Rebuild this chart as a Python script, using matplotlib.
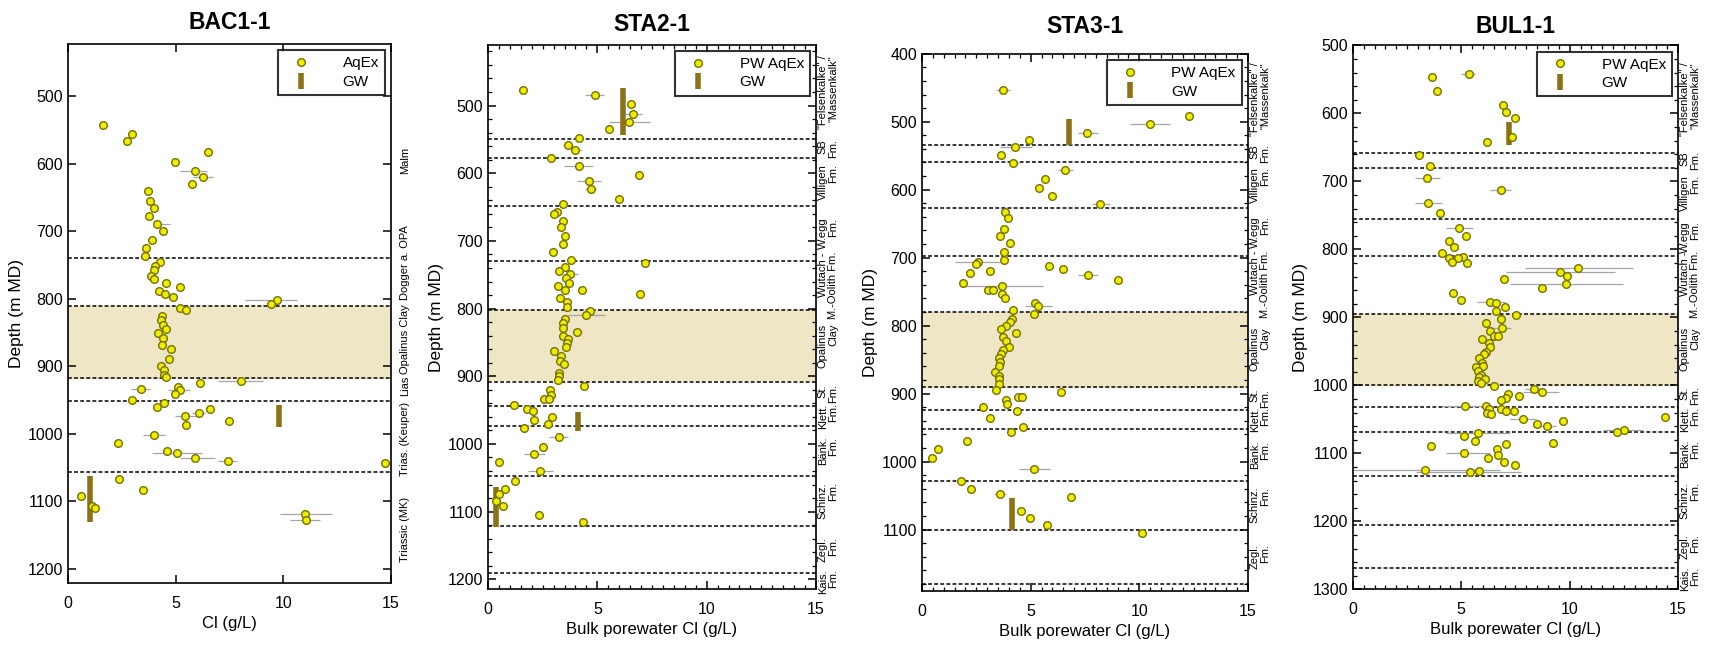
import matplotlib.pyplot as plt
from matplotlib.lines import Line2D
from matplotlib.ticker import MultipleLocator
import matplotlib.transforms as mtransforms

plt.rcParams['font.family'] = ['Liberation Sans', 'DejaVu Sans']

# ---------------- BAC1-1 ----------------
bac_cl = [1.63, 2.98, 2.73, 6.51, 4.96, 5.88, 6.26, 5.74, 3.72, 3.80, 4.00, 3.74, 4.12, 4.40, 3.92,
          3.61, 3.58, 4.29, 4.06, 3.98, 3.83, 3.98, 4.56, 5.21, 4.23, 4.48, 4.87, 9.72, 9.41, 5.22,
          5.47, 4.37, 4.33, 4.39, 4.53, 4.17, 4.42, 4.37, 4.76, 4.70, 4.33, 4.45, 4.47, 4.53, 8.02,
          6.14, 5.12, 3.38, 5.19, 4.96, 2.96, 4.45, 4.14, 6.59, 6.09, 5.41, 7.49, 5.50, 3.97, 2.31,
          4.60, 5.04, 5.89, 7.41, 14.71, 2.36, 3.49, 0.60, 1.09, 1.27, 11.00, 11.07]
bac_depth = [542, 556, 567, 583, 598, 611, 620, 630, 640, 655, 666, 678, 689, 700, 713,
             725, 737, 746, 751, 758, 766, 771, 777, 783, 789, 793, 798, 801, 807, 813,
             816, 825, 832, 839, 845, 850, 858, 869, 875, 889, 899, 906, 913, 916, 921,
             924, 930, 934, 935, 941, 950, 954, 960, 963, 969, 974, 981, 987, 1001, 1013,
             1025, 1028, 1036, 1040, 1043, 1067, 1083, 1092, 1106, 1110, 1119, 1128]
bac_err_depth = [611, 620, 689, 801, 921, 934, 935, 969, 974, 1001, 1028, 1036, 1040, 1119, 1128]
bac_err_lo = [5.22, 5.81, 3.95, 8.22, 6.98, 2.94, 4.65, 5.74, 4.96, 3.49, 3.88, 5.19, 6.98, 9.84, 10.3]
bac_err_hi = [6.46, 6.74, 4.73, 10.62, 9.07, 3.80, 5.66, 6.36, 5.97, 4.50, 6.20, 6.82, 7.83, 12.25, 11.7]
bac_gw_cl = [9.8, 1.0]
bac_gw_top = [957, 1062]
bac_gw_bot = [990, 1131]
bac_bounds = [740, 810, 917, 951, 1056]
bac_shade = (810, 917)
bac_units = ['Malm', 'Dogger a. OPA', 'Opalinus Clay', 'Lias', 'Trias. (Keuper)', 'Triassic (MK)']
bac_unit_depth = [595, 746, 860, 929, 1007, 1141]

# ---------------- STA2-1 ----------------
sta2_cl = [1.62, 4.87, 6.55, 6.64, 6.46, 5.51, 4.17, 3.67, 3.97, 2.90, 4.14, 6.89, 4.60, 4.70, 5.97,
           3.41, 3.15, 3.02, 3.41, 3.33, 3.50, 3.41, 2.99, 3.79, 7.18, 3.51, 3.25, 3.74, 3.56, 3.71,
           4.28, 3.50, 3.21, 6.95, 3.30, 3.59, 3.62, 4.66, 4.49, 3.54, 3.44, 3.44, 4.06, 3.44, 3.67,
           3.59, 3.56, 3.02, 3.35, 3.31, 3.47, 3.24, 3.24, 3.22, 4.40, 2.84, 2.87, 2.55, 2.78, 1.21,
           1.76, 2.06, 2.93, 2.09, 2.72, 1.66, 3.24, 2.52, 2.09, 0.50, 2.38, 1.24, 0.76, 0.49, 0.38,
           0.67, 2.35, 4.34]
sta2_depth = [477, 485, 498, 512, 524, 535, 548, 559, 565, 577, 589, 602, 612, 624, 638,
              645, 657, 660, 670, 680, 693, 704, 716, 728, 732, 738, 744, 749, 755, 762,
              773, 773, 767, 779, 784, 791, 798, 804, 809, 816, 822, 828, 834, 840, 845,
              851, 857, 863, 870, 877, 882, 895, 900, 905, 915, 920, 927, 933, 933, 943,
              948, 952, 960, 965, 971, 976, 990, 1004, 1015, 1027, 1040, 1055, 1066, 1074, 1084,
              1091, 1105, 1115]
sta2_err_depth = [485, 512, 524, 559, 565, 589, 612, 624, 749, 809, 834, 990, 1015, 1040]
sta2_err_lo = [4.44, 6.26, 5.53, 3.41, 3.90, 3.47, 4.05, 4.43, 3.51, 3.67, 3.82, 2.80, 1.63, 1.82]
sta2_err_hi = [5.30, 7.06, 7.41, 3.90, 4.32, 4.81, 5.16, 4.93, 4.12, 5.35, 4.32, 3.67, 2.60, 2.98]
sta2_gw_cl = [6.15, 4.1, 0.35]
sta2_gw_top = [474, 953, 1063]
sta2_gw_bot = [544, 981, 1123]
sta2_bounds = [550, 577, 648, 730, 802, 908, 944, 974, 1047, 1121, 1191]
sta2_shade = (802, 906)

# ---------------- STA3-1 ----------------
sta3_cl = [3.72, 12.27, 10.50, 7.60, 4.90, 4.30, 3.64, 4.19, 6.59, 5.65, 5.40, 6.00, 8.18, 3.82, 3.96,
           3.78, 3.58, 4.07, 3.76, 3.76, 2.58, 2.47, 5.83, 6.48, 3.13, 2.21, 7.63, 9.01, 1.87, 3.70,
           3.02, 3.25, 3.70, 3.81, 5.19, 5.34, 4.19, 5.16, 4.16, 4.04, 3.88, 3.65, 4.31, 3.73, 3.88,
           3.99, 3.73, 3.64, 3.55, 3.61, 3.56, 3.35, 3.52, 3.56, 3.53, 3.41, 6.39, 4.41, 4.62, 3.87,
           3.90, 2.81, 4.35, 3.15, 4.64, 4.08, 2.06, 0.72, 0.45, 5.16, 1.80, 2.26, 3.61, 6.86, 4.54,
           4.97, 5.76, 10.13]
sta3_depth = [454, 492, 503, 516, 527, 537, 549, 561, 571, 584, 597, 609, 621, 633, 642,
              658, 668, 679, 691, 703, 707, 709, 713, 716, 719, 723, 725, 733, 737, 742,
              747, 747, 753, 760, 766, 771, 777, 783, 790, 794, 800, 805, 811, 817, 823,
              831, 836, 842, 848, 854, 860, 868, 874, 879, 886, 894, 898, 905, 905, 910,
              915, 919, 926, 936, 949, 957, 970, 981, 994, 1011, 1029, 1041, 1048, 1052, 1072,
              1083, 1093, 1105]
sta3_err_depth = [454, 503, 516, 537, 561, 571, 621, 707, 725, 742, 771, 1011, 1048]
sta3_err_lo = [3.41, 9.58, 7.20, 3.59, 3.98, 6.28, 7.82, 1.52, 7.20, 1.75, 4.74, 4.44, 3.33]
sta3_err_hi = [4.05, 11.42, 8.12, 5.05, 4.44, 6.97, 8.66, 3.59, 8.12, 5.59, 5.97, 5.90, 3.87]
sta3_gw_cl = [6.75, 4.15]
sta3_gw_top = [496, 1053]
sta3_gw_bot = [534, 1100]
sta3_bounds = [534, 560, 627, 698, 780, 890, 924, 952, 1028, 1100, 1180]
sta3_shade = (780, 890)

# ---------------- BUL1-1 ----------------
bul_cl = [5.34, 3.66, 3.86, 6.94, 7.05, 7.46, 7.35, 6.18, 3.05, 3.54, 3.43, 6.82, 3.46, 4.03, 4.89,
          5.22, 4.43, 4.66, 4.12, 5.06, 4.43, 4.86, 4.57, 5.25, 10.38, 9.57, 9.88, 6.98, 9.83, 8.72,
          4.62, 4.98, 6.32, 6.58, 7.00, 6.60, 7.51, 6.82, 6.14, 6.86, 6.31, 6.51, 6.71, 5.94, 6.26,
          6.32, 6.12, 6.05, 5.82, 5.95, 5.85, 5.69, 5.98, 5.77, 5.91, 5.80, 6.09, 5.77, 5.91, 6.52,
          8.35, 8.74, 7.15, 7.68, 7.08, 6.82, 5.17, 6.12, 6.28, 6.82, 7.06, 7.43, 6.20, 6.38, 14.42,
          7.85, 9.69, 8.51, 8.95, 12.52, 12.20, 5.77, 5.14, 5.63, 9.23, 7.05, 3.58, 6.66, 6.71, 5.14,
          6.23, 6.98, 7.49, 3.32, 5.38, 5.82]
bul_depth = [542, 547, 567, 587, 598, 606, 634, 642, 661, 677, 695, 713, 731, 747, 769,
             780, 787, 797, 805, 811, 813, 813, 819, 820, 827, 833, 839, 844, 851, 857,
             864, 874, 878, 879, 884, 890, 897, 903, 908, 915, 920, 927, 927, 932, 938,
             944, 951, 954, 959, 967, 973, 973, 972, 979, 984, 987, 990, 993, 997, 1001,
             1005, 1010, 1013, 1015, 1018, 1021, 1030, 1030, 1034, 1035, 1038, 1038, 1041, 1042, 1046,
             1049, 1052, 1057, 1060, 1065, 1068, 1070, 1074, 1081, 1084, 1086, 1089, 1093, 1102, 1100,
             1106, 1112, 1117, 1124, 1127, 1126]
bul_err_depth = [542, 695, 713, 731, 769, 827, 833, 851, 878, 915, 1005, 1010, 1030, 1049,
                 1060, 1065, 1070, 1100, 1124, 1127]
bul_err_lo = [5.00, 2.85, 6.31, 2.85, 4.31, 7.92, 7.08, 7.23, 5.72, 6.46, 7.92, 7.85, 4.12, 7.23,
              8.30, 11.54, 4.31, 4.31, 0.00, 2.92]
bul_err_hi = [5.62, 4.00, 7.31, 4.12, 5.54, 12.92, 12.08, 12.46, 7.00, 7.31, 8.77, 9.51, 6.31, 8.46,
              9.38, 13.38, 7.23, 6.31, 6.77, 7.77]
bul_gw_cl = [7.2]
bul_gw_top = [613]
bul_gw_bot = [647]
bul_bounds = [658, 680, 755, 809, 895, 999, 1032, 1069, 1133, 1205, 1269]
bul_shade = (895, 999)

# formation labels shared by the STA2-1 / STA3-1 / BUL1-1 columns
fm_labels = ['"Felsenkalke" /\n"Massenkalk"', 'SB\nFm.', 'Villigen\nFm.', 'W.egg\nFm.',
             'Wutach -\nM.-Oolith Fm.', 'Opalinus\nClay', 'St.\nFm.', 'Klett.\nFm.',
             'Bänk.\nFm.', 'Schinz.\nFm.', 'Zegl.\nFm.', 'Kais.\nFm.']

PT_FACE = '#EDED00'
PT_EDGE = '#767000'
GW_COL = '#8B7118'
SHADE = '#EEE6C5'

panels = [
    dict(title='BAC1-1', cl=bac_cl, d=bac_depth, ed=bac_err_depth, elo=bac_err_lo, ehi=bac_err_hi,
         gx=bac_gw_cl, gt=bac_gw_top, gb=bac_gw_bot, bounds=bac_bounds, shade=bac_shade,
         ylim=(1221, 423), yticks=range(500, 1201, 100), xlabel='Cl (g/L)', leg='AqEx',
         pos=[0.0398, 0.100, 0.1889, 0.8318], minor=False, pad=11),
    dict(title='STA2-1', cl=sta2_cl, d=sta2_depth, ed=sta2_err_depth, elo=sta2_err_lo, ehi=sta2_err_hi,
         gx=sta2_gw_cl, gt=sta2_gw_top, gb=sta2_gw_bot, bounds=sta2_bounds, shade=sta2_shade,
         ylim=(1215, 410), yticks=range(500, 1201, 100), xlabel='Bulk porewater Cl (g/L)', leg='PW AqEx',
         pos=[0.2854, 0.0904, 0.1918, 0.8407], minor=True, pad=10),
    dict(title='STA3-1', cl=sta3_cl, d=sta3_depth, ed=sta3_err_depth, elo=sta3_err_lo, ehi=sta3_err_hi,
         gx=sta3_gw_cl, gt=sta3_gw_top, gb=sta3_gw_bot, bounds=sta3_bounds, shade=sta3_shade,
         ylim=(1191, 400), yticks=range(400, 1101, 100), xlabel='Bulk porewater Cl (g/L)', leg='PW AqEx',
         pos=[0.5392, 0.0873, 0.1906, 0.8298], minor=True, pad=15),
    dict(title='BUL1-1', cl=bul_cl, d=bul_depth, ed=bul_err_depth, elo=bul_err_lo, ehi=bul_err_hi,
         gx=bul_gw_cl, gt=bul_gw_top, gb=bul_gw_bot, bounds=bul_bounds, shade=bul_shade,
         ylim=(1300, 500), yticks=range(500, 1301, 100), xlabel='Bulk porewater Cl (g/L)', leg='PW AqEx',
         pos=[0.7912, 0.0904, 0.1901, 0.8395], minor=True, pad=9),
]

fig = plt.figure(figsize=(17.1, 6.48), dpi=100)

for p in panels:
    ax = fig.add_axes(p['pos'])
    ax.set_xlim(0, 15)
    ax.set_ylim(*p['ylim'])
    ax.axhspan(p['shade'][0], p['shade'][1], color=SHADE, zorder=0)
    for b in p['bounds']:
        ax.axhline(b, color='black', lw=1.1, ls=(0, (2.5, 1.5)), zorder=1)
    ax.hlines(p['ed'], p['elo'], p['ehi'], color='#a5a5a5', lw=0.9, zorder=2)
    ax.vlines(p['gx'], p['gt'], p['gb'], color=GW_COL, lw=4, zorder=3)
    ax.plot(p['cl'], p['d'], 'o', ms=5.5, mfc=PT_FACE, mec=PT_EDGE, mew=1.0, zorder=4)

    ax.set_xticks([0, 5, 10, 15])
    ax.set_yticks(list(p['yticks']))
    if p['minor']:
        ax.xaxis.set_minor_locator(MultipleLocator(0.5))
        ax.yaxis.set_minor_locator(MultipleLocator(20))
    ax.tick_params(which='major', direction='in', top=True, right=True, length=6, width=1.1,
                   labelsize=11.5)
    ax.tick_params(which='minor', direction='in', top=True, right=True, length=3, width=0.9)
    ax.tick_params(axis='x', pad=9)
    for s in ax.spines.values():
        s.set_linewidth(1.2)

    ax.set_title(p['title'], fontsize=16.5, fontweight='bold', pad=p['pad'])
    ax.set_ylabel('Depth (m MD)', fontsize=12.5, labelpad=3)
    ax.set_xlabel(p['xlabel'], fontsize=12, labelpad=4)

    handles = [Line2D([], [], ls='none', marker='o', ms=5.5, mfc=PT_FACE, mec=PT_EDGE, mew=1.0),
               Line2D([], [], ls='none', marker='|', ms=11, mew=4, color=GW_COL)]
    leg = ax.legend(handles, [p['leg'], 'GW'], loc='upper right', fontsize=11, frameon=True,
                    fancybox=False, handlelength=2.2, handletextpad=1.6, borderpad=0.4,
                    labelspacing=0.3, borderaxespad=0.4)
    leg.get_frame().set_edgecolor('black')
    leg.get_frame().set_linewidth(1.5)

    trans = mtransforms.blended_transform_factory(ax.transAxes, ax.transData)
    if p['title'] == 'BAC1-1':
        for lab, dep in zip(bac_units, bac_unit_depth):
            ax.text(1.042, dep, lab, transform=trans, rotation=90, ha='center', va='center',
                    fontsize=8, clip_on=False)
    else:
        tops = [p['ylim'][1]] + p['bounds']
        bots = p['bounds'] + [p['ylim'][0]]
        for lab, t, b in zip(fm_labels, tops, bots):
            if b - t < 15:
                continue
            ax.text(1.037, (t + b) / 2, lab, transform=trans, rotation=90, ha='center', va='center',
                    fontsize=8, linespacing=1.05, multialignment='right', clip_on=False)

fig.savefig('out.png', dpi=100)
